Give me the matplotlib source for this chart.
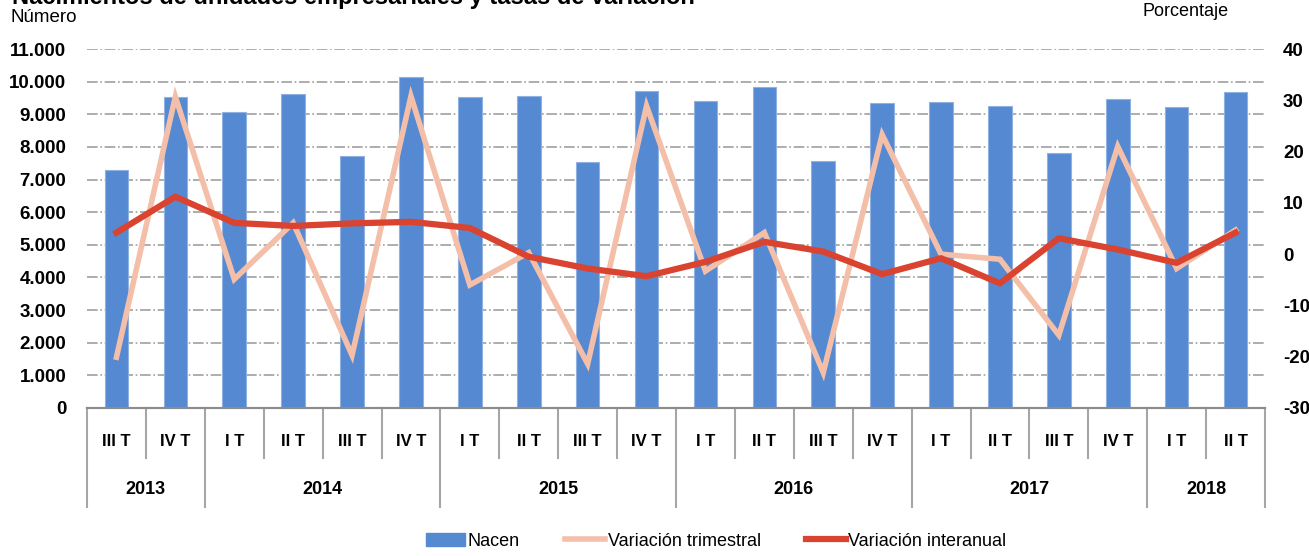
import matplotlib
matplotlib.use("Agg")
import matplotlib.pyplot as plt
from matplotlib.transforms import blended_transform_factory
from matplotlib.patches import Patch
from matplotlib.lines import Line2D

plt.rcParams['font.family'] = ['Liberation Sans', 'DejaVu Sans']

# data
quarters = ["III T", "IV T",
            "I T", "II T", "III T", "IV T",
            "I T", "II T", "III T", "IV T",
            "I T", "II T", "III T", "IV T",
            "I T", "II T", "III T", "IV T",
            "I T", "II T"]
years = ["2013", "2014", "2015", "2016", "2017", "2018"]
year_counts = [2, 4, 4, 4, 4, 2]
nacen = [7290, 9520, 9060, 9620, 7730, 10130,
         9540, 9570, 7530, 9710, 9400, 9830,
         7560, 9340, 9370, 9260, 7800, 9480,
         9220, 9670]
var_trim = [-20.1, 30.7, -4.9, 6.1, -19.7, 30.8,
            -6.0, 0.3, -21.4, 28.9, -3.3, 4.2,
            -23.1, 23.3, 0.0, -1.0, -15.8, 21.0,
            -2.8, 4.7]
var_inter = [4.2, 11.2, 6.1, 5.5, 6.0, 6.3,
             5.1, -0.5, -2.8, -4.3, -1.5, 2.4,
             0.5, -3.9, -0.8, -5.7, 3.1, 0.9,
             -1.7, 4.2]

W, H = 1309, 556
fig = plt.figure(figsize=(W / 100, H / 100), dpi=100)
left, right, top, bottom = 87, 1265, 49, 408
ax = fig.add_axes([left / W, 1 - bottom / H, (right - left) / W, (bottom - top) / H])
ax2 = ax.twinx()

x = list(range(len(nacen)))
ax.bar(x, nacen, width=0.4, color='#5589D1', edgecolor='#8FB2E3', linewidth=0.8, zorder=2)
ax.set_xlim(-0.5, len(nacen) - 0.5)
ax.set_ylim(0, 11000)
ax.set_yticks(range(0, 11001, 1000))
ax.set_yticklabels([f"{v:,}".replace(",", ".") for v in range(0, 11001, 1000)],
                   fontsize=13.5, fontweight='bold')
ax.yaxis.grid(True, color='#A0A0A0', linestyle='-.', linewidth=1.2, zorder=0)
ax.set_axisbelow(True)
ax.tick_params(axis='y', length=0, pad=15)
ax.tick_params(axis='x', length=0, labelbottom=False)

ax2.plot(x, var_trim, color='#F4BFA9', linewidth=4, solid_joinstyle='miter', zorder=3)
ax2.plot(x, var_inter, color='#D9432F', linewidth=4.5, zorder=4)
ax2.set_ylim(-30, 40)
ax2.set_yticks(range(-30, 41, 10))
ax2.set_yticklabels([str(v) for v in range(-30, 41, 10)], fontsize=13.5, fontweight='bold')
ax2.tick_params(axis='y', length=0, pad=13)

for a in (ax, ax2):
    for s in ('top', 'left', 'right'):
        a.spines[s].set_visible(False)
    a.spines['bottom'].set_color('#8C8C8C')
    a.spines['bottom'].set_linewidth(1.5)

# two-level category axis
tr = blended_transform_factory(ax.transData, ax.transAxes)
span = bottom - top
lvl1 = -(458 - bottom) / span
lvl2 = -(507 - bottom) / span
for i, q in enumerate(quarters):
    ax.text(i, -(441 - bottom) / span, q, transform=tr, ha='center', va='center',
            fontsize=12, fontweight='bold')

year_bounds = [0]
for c in year_counts:
    year_bounds.append(year_bounds[-1] + c)
for b in range(len(quarters) + 1):
    yb = lvl2 if b in year_bounds else lvl1
    ax.plot([b - 0.5, b - 0.5], [0, yb], transform=tr, color='#A6A6A6',
            linewidth=1.5, clip_on=False)
for j, yr in enumerate(years):
    cx = (year_bounds[j] + year_bounds[j + 1]) / 2 - 0.5
    ax.text(cx, -(490 - bottom) / span, yr, transform=tr, ha='center', va='center',
            fontsize=13, fontweight='bold')

fig.text(12 / W, 1 - 4 / H, "Nacimientos de unidades empresariales y tasas de variación",
         fontsize=17, fontweight='bold', ha='left', va='baseline')
fig.text(11 / W, 1 - 17 / H, "Número", fontsize=13.5, ha='left', va='center')
fig.text(1186 / W, 1 - 12 / H, "Porcentaje", fontsize=13, ha='center', va='center')

handles = [Patch(facecolor='#5589D1', edgecolor='#5589D1'),
           Line2D([0], [0], color='#F4BFA9', linewidth=4),
           Line2D([0], [0], color='#D9432F', linewidth=4.5)]
fig.legend(handles, ["Nacen", "Variación trimestral", "Variación interanual"],
           loc='center', bbox_to_anchor=(716 / W, 1 - 541 / H), ncol=3, frameon=False,
           fontsize=13, handlelength=2.2, handletextpad=0.15, columnspacing=2.5)

fig.savefig("out.png", dpi=100)
